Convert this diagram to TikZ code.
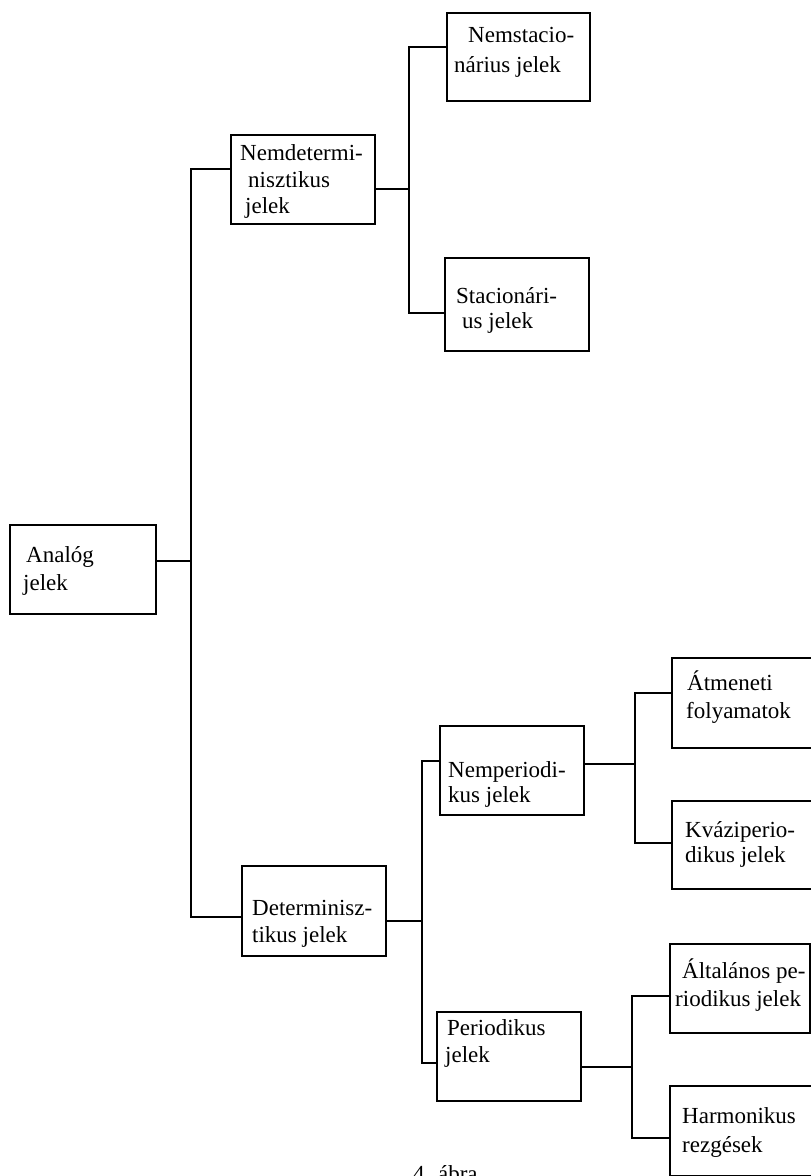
\documentclass[tikz,border=0pt]{standalone}
\usepackage{fontspec}
\setmainfont{Liberation Serif}
\begin{document}
\begin{tikzpicture}[x=1pt,y=-1pt,
  box/.style={draw=black,line width=1.6pt,rectangle,inner sep=0pt,anchor=north west},
  conn/.style={draw=black,line width=1.6pt},
  lbl/.style={anchor=base west,inner sep=0pt,font=\fontsize{23}{27}\selectfont}]
\useasboundingbox (0,0) rectangle (811,1176);
% boxes
\node[box,minimum width=146pt,minimum height=89pt] (analog) at (9,524) {};
\node[box,minimum width=144pt,minimum height=89pt] (nemdet) at (230,134) {};
\node[box,minimum width=143pt,minimum height=88pt] (nemstac) at (446,12) {};
\node[box,minimum width=144pt,minimum height=93pt] (stac) at (444,257) {};
\node[box,minimum width=144pt,minimum height=90pt] (determ) at (241,865) {};
\node[box,minimum width=144pt,minimum height=89pt] (nemper) at (439,725) {};
\node[box,minimum width=144pt,minimum height=89pt] (period) at (436,1011) {};
\node[box,minimum width=146pt,minimum height=90pt] (atmen) at (671,657) {};
\node[box,minimum width=146pt,minimum height=88pt] (kvazi) at (671,800) {};
\node[box,minimum width=140pt,minimum height=89pt] (altal) at (669,943) {};
\node[box,minimum width=146pt,minimum height=90pt] (harmon) at (669,1085) {};
% labels
\node[lbl] (t-an1) at (26,562) {Analóg};
\node[lbl] (t-an2) at (23,590) {jelek};
\node[lbl] (t-nd1) at (240,160) {Nemdetermi-};
\node[lbl] (t-nd2) at (248,187) {nisztikus};
\node[lbl] (t-nd3) at (245,213) {jelek};
\node[lbl] (t-ns1) at (468,42) {Nemstacio-};
\node[lbl] (t-ns2) at (454,72) {nárius jelek};
\node[lbl] (t-st1) at (456,303) {Stacionári-};
\node[lbl] (t-st2) at (462,328) {us jelek};
\node[lbl] (t-de1) at (252,915) {Determinisz-};
\node[lbl] (t-de2) at (252,942) {tikus jelek};
\node[lbl] (t-np1) at (448,777) {Nemperiodi-};
\node[lbl] (t-np2) at (448,802) {kus jelek};
\node[lbl] (t-pe1) at (447,1035) {Periodikus};
\node[lbl] (t-pe2) at (445,1062) {jelek};
\node[lbl] (t-at1) at (687,690) {Átmeneti};
\node[lbl] (t-at2) at (686,718) {folyamatok};
\node[lbl] (t-kv1) at (685,837) {Kváziperio-};
\node[lbl] (t-kv2) at (685,862) {dikus jelek};
\node[lbl] (t-al1) at (682,978) {Általános pe-};
\node[lbl] (t-al2) at (675,1006) {riodikus jelek};
\node[lbl] (t-ha1) at (682,1123) {Harmonikus};
\node[lbl] (t-ha2) at (682,1152) {rezgések};
\node[lbl] (caption) at (413,1181) {4. ábra};
% junction coordinates
\coordinate (a0) at (191,561);
\coordinate (a1) at (191,169);
\coordinate (a2) at (191,917);
\coordinate (b0) at (409,189);
\coordinate (b1) at (409,47);
\coordinate (b2) at (409,313);
\coordinate (c0) at (422,921);
\coordinate (c1) at (422,761);
\coordinate (c2) at (422,1063);
\coordinate (d0) at (635,764);
\coordinate (d1) at (635,693);
\coordinate (d2) at (635,843);
\coordinate (e0) at (632,1067);
\coordinate (e1) at (632,996);
\coordinate (e2) at (632,1138);
% connectors
\draw[conn] (analog.east |- a0) -- (a0);
\draw[conn] (nemdet.west |- a1) -- (a1) -- (a2) -- (determ.west |- a2);
\draw[conn] (nemdet.east |- b0) -- (b0);
\draw[conn] (nemstac.west |- b1) -- (b1) -- (b2) -- (stac.west |- b2);
\draw[conn] (determ.east |- c0) -- (c0);
\draw[conn] (nemper.west |- c1) -- (c1) -- (c2) -- (period.west |- c2);
\draw[conn] (nemper.east |- d0) -- (d0);
\draw[conn] (atmen.west |- d1) -- (d1) -- (d2) -- (kvazi.west |- d2);
\draw[conn] (period.east |- e0) -- (e0);
\draw[conn] (altal.west |- e1) -- (e1) -- (e2) -- (harmon.west |- e2);
\end{tikzpicture}
\end{document}
